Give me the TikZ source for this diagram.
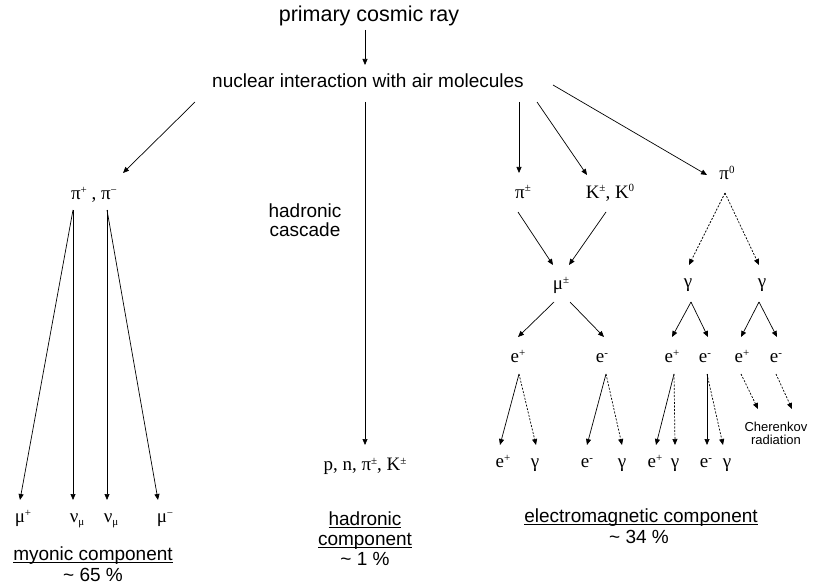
\documentclass[tikz,border=0pt]{standalone}
\usepackage{fontspec}
\setmainfont{Liberation Serif}
\newfontfamily\sansf{Liberation Sans}
\usetikzlibrary{arrows.meta}
\newcommand\sps[1]{\raisebox{6pt}{\fontsize{11}{11}\selectfont #1}}
\newcommand\sbs[1]{\raisebox{-3pt}{\fontsize{11}{11}\selectfont #1}}
\newcommand\ulx[1]{\setbox0\hbox{#1}\rlap{\rule[-2.5pt]{\wd0}{0.9pt}}\box0}
\begin{document}
\begin{tikzpicture}[x=1pt,y=-1pt,
  lab/.style={anchor=base, inner sep=0pt, font=\fontsize{19}{19}\selectfont},
  slab/.style={anchor=base, inner sep=0pt, font=\sansf\fontsize{19}{19}\selectfont},
  ttl/.style={anchor=base, inner sep=0pt, font=\sansf\fontsize{21.5}{21.5}\selectfont},
  small/.style={anchor=base, inner sep=0pt, font=\sansf\fontsize{13}{13}\selectfont},
  arr/.style={-{Triangle[length=6pt,width=5pt]}, line width=0.7pt},
  dsh/.style={arr, dash pattern=on 2pt off 1.5pt}]
\useasboundingbox (0,0) rectangle (816,588);
% texts
\node[ttl] (title) at (369,22) {primary cosmic ray};
\node[slab] (nuc) at (368,88) {nuclear interaction with air molecules};
\node[lab] (pipm) at (94,200) {π\sps{+} , π\sps{−}};
\node[slab] (hc1) at (305,217) {hadronic};
\node[slab] (hc2) at (305,236) {cascade};
\node[lab] (had) at (365,470) {p, n, π\sps{±}, K\sps{±}};
\node[slab] (hd1) at (365,525) {\ulx{hadronic}};
\node[slab] (hd2) at (365,545) {\ulx{component}};
\node[slab] (hd3) at (365,565) {\textasciitilde{} 1 \%};
\node[lab] (mup) at (23,522) {μ\sps{+}};
\node[lab] (nu1) at (77,522) {ν\sbs{μ}};
\node[lab] (nu2) at (111,522) {ν\sbs{μ}};
\node[lab] (mum) at (165,522) {μ\sps{−}};
\node[slab] (my1) at (93,560) {\ulx{myonic component}};
\node[slab] (my2) at (93,581) {\textasciitilde{} 65 \%};
\node[lab] (pic) at (523,198) {π\sps{±}};
\node[lab] (kaon) at (610,198) {K\sps{±}, K\sps{0}};
\node[lab] (pi0) at (727,180) {π\sps{0}};
\node[lab] (muon) at (561,289) {μ\sps{±}};
\node[lab] (g1) at (688,287) {γ};
\node[lab] (g2) at (762,287) {γ};
\node[lab] (ea) at (518,362) {e\sps{+}};
\node[lab] (eb) at (602,362) {e\sps{-}};
\node[lab] (ec) at (672,362) {e\sps{+}};
\node[lab] (ed) at (705,362) {e\sps{-}};
\node[lab] (ee) at (742,362) {e\sps{+}};
\node[lab] (ef) at (776,362) {e\sps{-}};
\node[lab] (fa) at (503,467) {e\sps{+}};
\node[lab] (fb) at (535,467) {γ};
\node[lab] (fc) at (587,467) {e\sps{-}};
\node[lab] (fd) at (622,467) {γ};
\node[lab] (fe) at (655,467) {e\sps{+}};
\node[lab] (ff) at (675,467) {γ};
\node[lab] (fg) at (706,467) {e\sps{-}};
\node[lab] (fh) at (727,467) {γ};
\node[small] (ch1) at (776,431) {Cherenkov};
\node[small] (ch2) at (776,444) {radiation};
\node[slab] (em1) at (641,522) {\ulx{electromagnetic component}};
\node[slab] (em2) at (639,543) {\textasciitilde{} 34 \%};
% connectors
\draw[arr] ([shift={(-4,8)}]title.base) -- ([shift={(-3,-23)}]nuc.base);
\draw[arr] ([shift={(-173,14)}]nuc.base) -- ([shift={(29,-27)}]pipm.base);
\draw[arr] ([shift={(-3,14)}]nuc.base) -- ([shift={(0,-25)}]had.base);
\draw[arr] ([shift={(151,14)}]nuc.base) -- ([shift={(-4,-25)}]pic.base);
\draw[arr] ([shift={(169,14)}]nuc.base) -- ([shift={(-23,-23)}]kaon.base);
\draw[arr] ([shift={(185,-3)}]nuc.base) -- ([shift={(-20,-5)}]pi0.base);
\draw[arr] ([shift={(-21,10)}]pipm.base) -- ([shift={(-3,-22)}]mup.base);
\draw[arr] ([shift={(-21,10)}]pipm.base) -- ([shift={(-4,-22)}]nu1.base);
\draw[arr] ([shift={(13,10)}]pipm.base) -- ([shift={(-4,-22)}]nu2.base);
\draw[arr] ([shift={(13,10)}]pipm.base) -- ([shift={(-7,-22)}]mum.base);
\draw[arr] ([shift={(-5,14)}]pic.base) -- ([shift={(-8,-24)}]muon.base);
\draw[arr] ([shift={(-4,14)}]kaon.base) -- ([shift={(8,-24)}]muon.base);
\draw[dsh] ([shift={(-2,13)}]pi0.base) -- ([shift={(1,-22)}]g1.base);
\draw[dsh] ([shift={(-2,13)}]pi0.base) -- ([shift={(-3,-22)}]g2.base);
\draw[arr] ([shift={(-7,13)}]muon.base) -- ([shift={(0,-25)}]ea.base);
\draw[arr] ([shift={(9,13)}]muon.base) -- ([shift={(2,-25)}]eb.base);
\draw[arr] ([shift={(3,15)}]g1.base) -- ([shift={(0,-25)}]ec.base);
\draw[arr] ([shift={(3,15)}]g1.base) -- ([shift={(3,-25)}]ed.base);
\draw[arr] ([shift={(-3,15)}]g2.base) -- ([shift={(-1,-25)}]ee.base);
\draw[arr] ([shift={(-3,15)}]g2.base) -- ([shift={(1,-25)}]ef.base);
\draw[arr] ([shift={(1,12)}]ea.base) -- ([shift={(-3,-22)}]fa.base);
\draw[dsh] ([shift={(1,12)}]ea.base) -- ([shift={(1,-22)}]fb.base);
\draw[arr] ([shift={(4,12)}]eb.base) -- ([shift={(0,-22)}]fc.base);
\draw[dsh] ([shift={(4,12)}]eb.base) -- ([shift={(0,-22)}]fd.base);
\draw[arr] ([shift={(2,12)}]ec.base) -- ([shift={(1,-22)}]fe.base);
\draw[dsh] ([shift={(2,12)}]ec.base) -- ([shift={(0,-22)}]ff.base);
\draw[arr] ([shift={(2,12)}]ed.base) -- ([shift={(1,-22)}]fg.base);
\draw[dsh] ([shift={(2,12)}]ed.base) -- ([shift={(-4,-22)}]fh.base);
\draw[dsh] ([shift={(-1,12)}]ee.base) -- ([shift={(-18,-22)}]ch1.base);
\draw[dsh] ([shift={(0,12)}]ef.base) -- ([shift={(16,-22)}]ch1.base);
\end{tikzpicture}
\end{document}
